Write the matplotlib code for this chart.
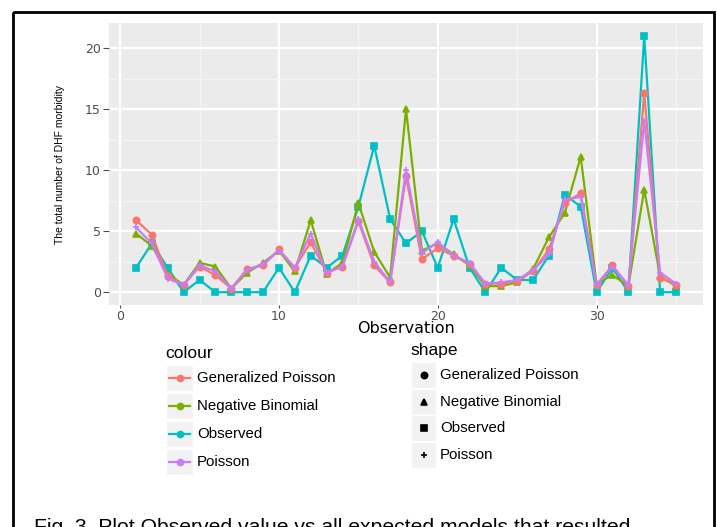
import matplotlib
matplotlib.use("Agg")
import matplotlib.pyplot as plt
from matplotlib.patches import Rectangle
from matplotlib.lines import Line2D
import numpy as np

# data
obs_idx = np.arange(1, 36)
observed = [2, 4, 2, 0, 1, 0, 0, 0, 0, 2, 0, 3, 2, 3, 7, 12, 6, 4, 5, 2,
            6, 2, 0, 2, 1, 1, 3, 8, 7, 0, 2, 0, 21, 0, 0]
gen_poisson = [5.9, 4.7, 1.3, 0.6, 2.1, 1.4, 0.3, 1.9, 2.2, 3.5, 2.0, 4.1, 1.6, 2.1, 5.8, 2.2, 0.8, 9.5, 2.7, 3.6,
               3.0, 2.3, 0.7, 0.7, 0.9, 1.7, 3.5, 7.3, 8.1, 0.6, 2.2, 0.5, 16.3, 1.2, 0.6]
neg_binomial = [4.8, 3.8, 1.5, 0.6, 2.4, 2.1, 0.3, 1.6, 2.4, 3.4, 1.7, 5.9, 1.5, 2.4, 7.3, 3.3, 1.2, 15.0, 3.4, 4.0,
                3.1, 2.2, 0.5, 0.5, 0.8, 1.9, 4.5, 6.5, 11.1, 0.7, 1.4, 0.5, 8.4, 1.3, 0.5]
poisson = [5.3, 4.0, 1.1, 0.6, 2.2, 1.7, 0.3, 1.8, 2.3, 3.4, 2.0, 4.8, 1.6, 2.1, 6.0, 2.5, 0.8, 10.0, 3.2, 4.1,
           3.0, 2.4, 0.7, 0.8, 1.0, 1.8, 3.1, 7.6, 7.8, 0.6, 2.1, 0.6, 14.0, 1.6, 0.7]

names = ["Generalized Poisson", "Negative Binomial", "Observed", "Poisson"]
colours = ["#F8766D", "#7CAE00", "#00BFC4", "#C77CFF"]
shapes = ["o", "^", "s", "+"]
series = [gen_poisson, neg_binomial, observed, poisson]

W, H = 717, 527
fig = plt.figure(figsize=(W / 100, H / 100), dpi=100)
fig.patch.set_facecolor("white")

lfont = ["Liberation Sans", "DejaVu Sans"]

# main panel (pixel box 109..703 x 23..305)
ax = fig.add_axes([109 / W, 1 - 305 / H, (703 - 109) / W, (305 - 23) / H])
ax.set_facecolor("#EBEBEB")
for sp in ax.spines.values():
    sp.set_visible(False)

ax.set_xlim(-0.7, 36.7)
ax.set_ylim(-1.05, 22.05)
ax.set_xticks([0, 10, 20, 30])
ax.set_yticks([0, 5, 10, 15, 20])
ax.set_xticks([5, 15, 25, 35], minor=True)
ax.set_yticks([2.5, 7.5, 12.5, 17.5], minor=True)
ax.grid(True, which="major", color="white", lw=1.6)
ax.grid(True, which="minor", color="#F5F5F5", lw=0.9)
ax.set_axisbelow(True)
ax.tick_params(which="major", colors="#4D4D4D", width=0.8, labelsize=9)
ax.tick_params(axis="y", length=4, pad=2)
ax.tick_params(axis="x", length=2.5, pad=1)
ax.tick_params(which="minor", length=0)

draw_order = [2, 1, 0, 3]
for i in draw_order:
    ax.plot(obs_idx, series[i], color=colours[i], lw=1.6, marker=shapes[i],
            markersize=4.5, markeredgewidth=1.2, zorder=3)

ax.set_xlabel("Observation", fontsize=11.5, labelpad=-1)
ax.set_ylabel("The total number of DHF morbidity", fontsize=7.5, family=lfont, labelpad=14)

# overlay in pixel coordinates for legends, border and caption
over = fig.add_axes([0, 0, 1, 1], zorder=-1)
over.set_xlim(0, W)
over.set_ylim(H, 0)
over.set_axis_off()

over.add_patch(Rectangle((13, 12), 701, 620, fill=False, ec="black", lw=2, clip_on=False))

# colour legend
over.text(165, 358, "colour", fontsize=12.5, family=lfont, va="baseline")
for k, name in enumerate(names):
    y0 = 365 + 28 * k
    over.add_patch(Rectangle((166, y0), 27, 26, fc="#F2F2F2", ec="white", lw=1))
    over.add_line(Line2D([169, 190], [y0 + 13, y0 + 13], color=colours[k], lw=1.6))
    over.plot([179.5], [y0 + 13], marker="o", color=colours[k], markersize=4.5)
    over.text(197, y0 + 13, name, fontsize=10.8, family=lfont, va="center")

# shape legend
over.text(410, 355, "shape", fontsize=12.5, family=lfont, va="baseline")
for k, name in enumerate(names):
    y0 = 362 + 26.7 * k
    over.add_patch(Rectangle((411, y0), 25, 26, fc="#F2F2F2", ec="white", lw=1))
    over.plot([423.5], [y0 + 13], marker=shapes[k], color="black", markersize=4.5,
              markeredgewidth=1.2)
    over.text(440, y0 + 13, name, fontsize=10.8, family=lfont, va="center")

# caption, cut at the bottom like the source screenshot
over.text(34, 533, "Fig. 3. Plot Observed value vs all expected models that resulted",
          fontsize=15.2, family=lfont, va="baseline", clip_on=False)

fig.savefig("out.png", dpi=100)
